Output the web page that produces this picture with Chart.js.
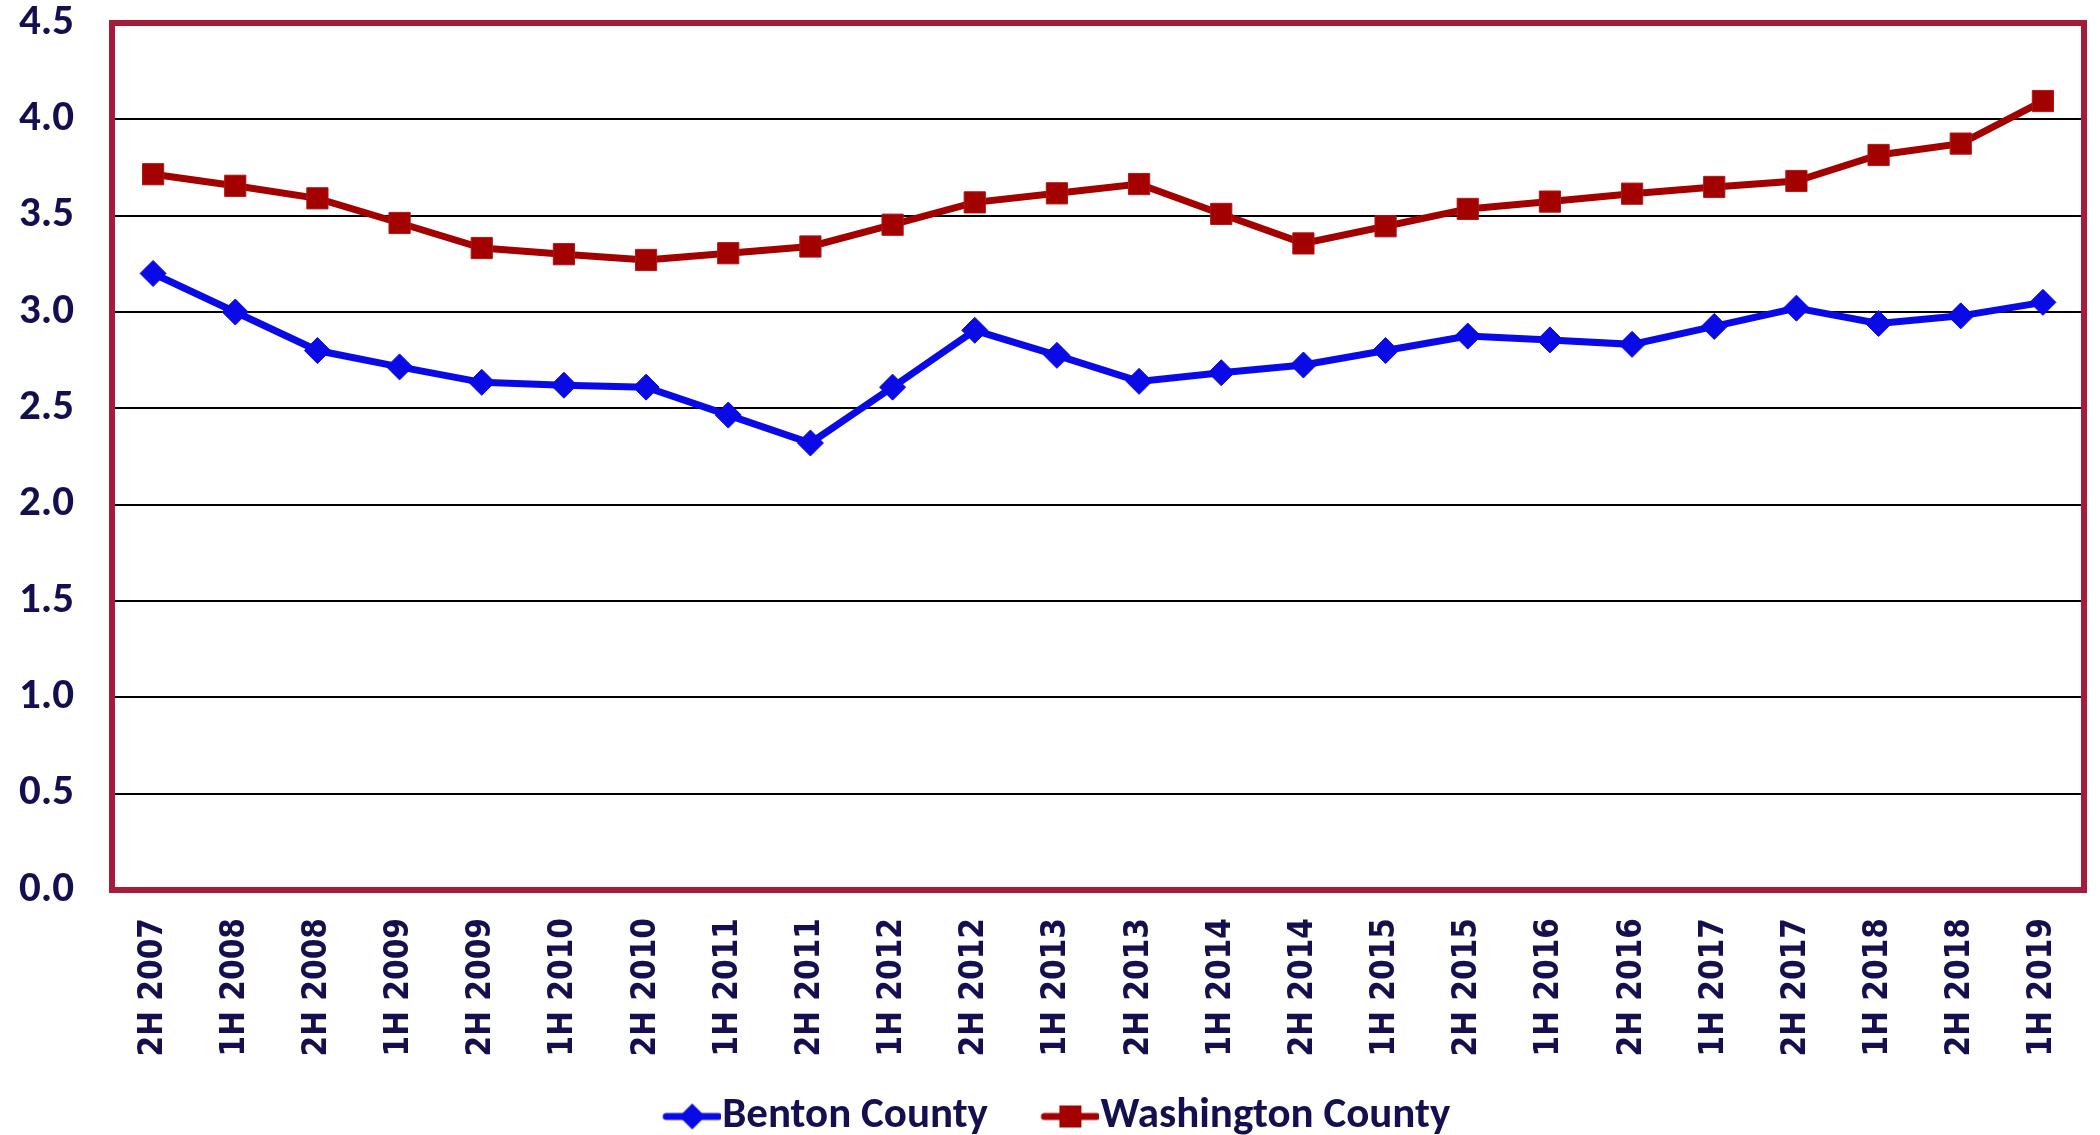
<!DOCTYPE html>
<html><head><meta charset="utf-8">
<script src="https://cdn.jsdelivr.net/npm/chart.js@4.4.1/dist/chart.umd.min.js"></script>
<style>html,body{margin:0;padding:0;background:#fff;}#wrap{width:2100px;height:1135px;}</style>
</head><body><div id="wrap"><canvas id="c" width="2100" height="1135"></canvas></div>
<script>
const categories = ["2H 2007","1H 2008","2H 2008","1H 2009","2H 2009","1H 2010","2H 2010","1H 2011","2H 2011","1H 2012","2H 2012","1H 2013","2H 2013","1H 2014","2H 2014","1H 2015","2H 2015","1H 2016","2H 2016","1H 2017","2H 2017","1H 2018","2H 2018","1H 2019"];
const bentonCounty = [3.20,3.00,2.80,2.715,2.635,2.62,2.61,2.465,2.32,2.61,2.905,2.775,2.64,2.685,2.725,2.80,2.875,2.855,2.832,2.925,3.02,2.94,2.98,3.05];
const washingtonCounty = [3.715,3.655,3.59,3.462,3.332,3.30,3.27,3.305,3.34,3.453,3.569,3.616,3.664,3.509,3.356,3.445,3.535,3.573,3.614,3.649,3.68,3.815,3.874,4.095];
const yMin = 0, yMax = 4.5, yStep = 0.5;
const seriesNames = ["Benton County","Washington County"];

const BLUE = '#0a0ae6', RED = '#a30000', FRAME = '#a51c3a', TEXT = '#14104f';
const LEG_P = 91;

function makeMarker(color, kind){
  const W = LEG_P + 41, H = 30;
  const c = document.createElement('canvas');
  c.width = W; c.height = H;
  const g = c.getContext('2d');
  const x0 = W - 58, cx = x0 + 29;
  g.strokeStyle = color; g.lineWidth = 7; g.lineCap = 'round';
  g.beginPath(); g.moveTo(x0 + 3,15); g.lineTo(W - 3,15); g.stroke();
  g.fillStyle = color;
  g.beginPath();
  if (kind === 'diamond'){ g.moveTo(cx,2); g.lineTo(cx+13,15); g.lineTo(cx,28); g.lineTo(cx-13,15); g.closePath(); }
  else { g.rect(cx-11,4,22,22); }
  g.fill();
  return c;
}
const markers = [makeMarker(BLUE,'diamond'), makeMarker(RED,'square')];

const framePlugin = {
  id: 'frame',
  beforeDatasetsDraw(chart){
    const a = chart.chartArea, ctx = chart.ctx;
    ctx.save(); ctx.strokeStyle = FRAME; ctx.lineWidth = 6;
    ctx.strokeRect(a.left, a.top, a.right - a.left, a.bottom - a.top);
    ctx.restore();
  }
};

new Chart(document.getElementById('c'), {
  type: 'line',
  data: {
    labels: categories,
    datasets: [
      { label: seriesNames[0], data: bentonCounty, borderColor: BLUE, backgroundColor: BLUE, borderWidth: 7,
        pointStyle: 'rectRot', pointRadius: 13, pointBorderWidth: 1, pointBorderColor: BLUE, pointBackgroundColor: BLUE, tension: 0 },
      { label: seriesNames[1], data: washingtonCounty, borderColor: RED, backgroundColor: RED, borderWidth: 7,
        pointStyle: 'rect', pointRadius: 15, pointBorderWidth: 1, pointBorderColor: '#b01818', pointBackgroundColor: RED, tension: 0 }
    ]
  },
  plugins: [framePlugin],
  options: {
    responsive: false, animation: false, devicePixelRatio: 1,
    layout: { autoPadding: false, padding: { top: 23, right: 16, left: -24, bottom: -13 } },
    plugins: {
      tooltip: { enabled: false },
      legend: {
        position: 'bottom',
        labels: {
          usePointStyle: true, pointStyleWidth: LEG_P, padding: 0, color: TEXT,
          font: { family: 'Carlito, Lato, sans-serif', weight: 'bold', size: 43 },
          generateLabels: (chart) => Chart.defaults.plugins.legend.labels.generateLabels(chart).map((l,i) => Object.assign(l, { pointStyle: markers[i] }))
        }
      }
    },
    scales: {
      x: {
        offset: true,
        grid: { display: true, color: 'rgba(0,0,0,0)', drawTicks: true, tickLength: 28, tickColor: 'rgba(0,0,0,0)' },
        border: { display: false },
        ticks: { color: TEXT, minRotation: 90, maxRotation: 90, autoSkip: false, padding: 0,
          font: { family: '"DejaVu Sans Condensed", "DejaVu Sans", sans-serif', weight: 'bold', size: 33 } },
        afterFit: (s) => { s.height = 1148 - 890 - s.chart.legend.height; }
      },
      y: {
        min: yMin, max: yMax,
        grid: { color: '#000', lineWidth: 2, drawTicks: true, tickLength: 38, tickColor: 'rgba(0,0,0,0)' },
        border: { display: false },
        ticks: { stepSize: yStep, color: TEXT, padding: 0, callback: (v) => Number(v).toFixed(1),
          font: { family: 'Carlito, Lato, sans-serif', weight: 'bold', size: 43, lineHeight: 1.0 } },
        afterFit: (s) => { s.width = 136; }
      }
    }
  }
});
</script></body></html>
